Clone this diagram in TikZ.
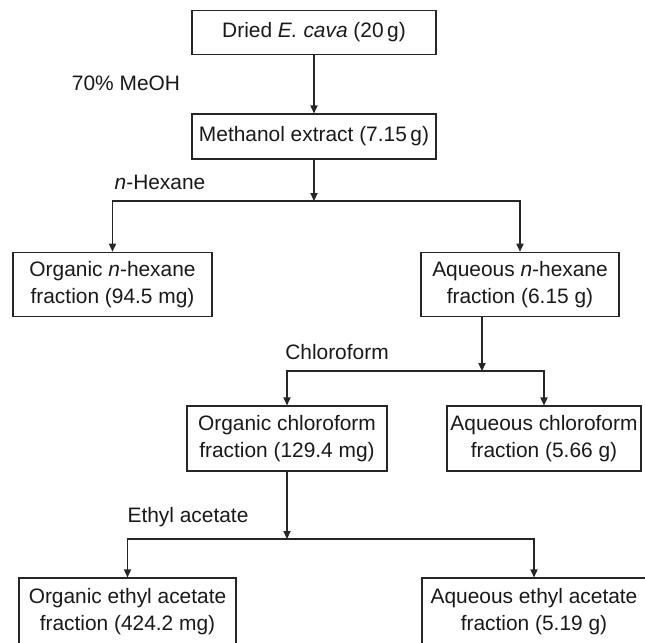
\documentclass[tikz,border=0pt]{standalone}
\usepackage{fontspec}
\setmainfont{Liberation Sans}
\usetikzlibrary{arrows.meta}
\begin{document}
\begin{tikzpicture}[x=0.5pt,y=-0.5pt,
  font=\fontsize{10.45}{13.5}\selectfont,
  box/.style={draw=black!85, line width=0.6pt, inner sep=0pt, align=center, text=black!90},
  lbl/.style={inner sep=0pt, text=black!90},
  arr/.style={draw=black!85, line width=0.6pt, -{Triangle[length=4pt,width=3.6pt]}},
  ln/.style={draw=black!85, line width=0.6pt}]
\useasboundingbox (0,0) rectangle (645,643);
\node[box, minimum width=122pt, minimum height=21.75pt] (b1) at (314,32.5) {Dried \textit{E. cava} (20\,g)};
\node[box, minimum width=122pt, minimum height=22.5pt] (b2) at (314,136.5) {Methanol extract (7.15\,g)};
\node[box, minimum width=99.5pt, minimum height=32.25pt] (b3) at (112.5,284.5) {Organic \textit{n}-hexane\\fraction (94.5 mg)};
\node[box, minimum width=99pt, minimum height=32.25pt] (b4) at (520,284.5) {Aqueous \textit{n}-hexane\\fraction (6.15 g)};
\node[box, minimum width=100pt, minimum height=32.5pt] (b5) at (287,438.5) {Organic chloroform\\fraction (129.4 mg)};
\node[box, minimum width=97pt, minimum height=32.5pt] (b6) at (544,438.5) {Aqueous chloroform\\fraction (5.66 g)};
\node[box, minimum width=108.5pt, minimum height=34pt] (b7) at (127.5,612) {Organic ethyl acetate\\fraction (424.2 mg)};
\node[box, minimum width=112pt, minimum height=34pt] (b8) at (534,612) {Aqueous ethyl acetate\\fraction (5.19 g)};
\node[lbl] (l1) at (126,83) {70\% MeOH};
\node[lbl] (l2) at (160,182) {\textit{n}-Hexane};
\node[lbl] (l3) at (337,352) {Chloroform};
\node[lbl] (l4) at (188,517) {Ethyl acetate};
\coordinate (j1) at (314,201);
\coordinate (j2) at (482,371);
\coordinate (j3) at (287,539);
\draw[arr] (b1) -- (b2);
\draw[arr] (b2) -- (j1);
\draw[arr] (j1) -| (b3.north);
\draw[arr] (j1) -| (b4.north);
\draw[arr] (b4.south -| j2) -- (j2);
\draw[arr] (j2) -| (b5.north);
\draw[arr] (j2) -| (b6.north);
\draw[arr] (b5) -- (j3);
\draw[arr] (j3) -| (b7.north);
\draw[arr] (j3) -| (b8.north);
\end{tikzpicture}
\end{document}
